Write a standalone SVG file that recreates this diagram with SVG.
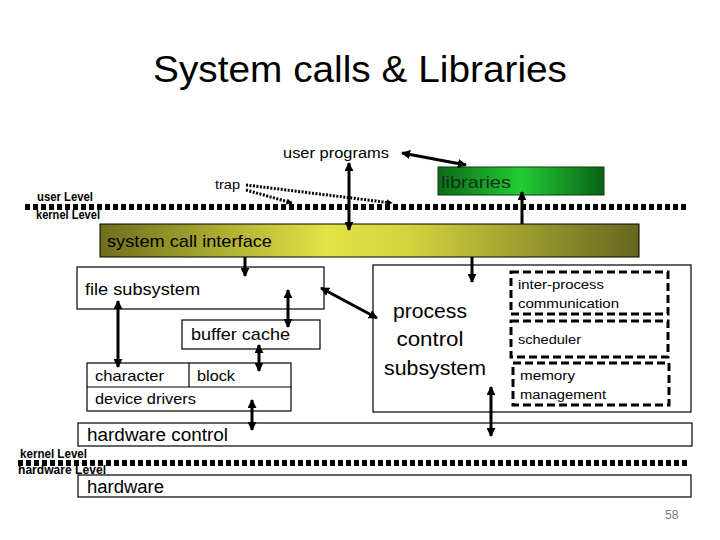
<svg xmlns="http://www.w3.org/2000/svg" width="720" height="540" viewBox="0 0 720 540">
<defs>
<style>
text{font-family:"Liberation Sans",Arial,sans-serif;fill:#000}
.box{fill:#fff;stroke:#000;stroke-width:1.2}
.dbox{fill:none;stroke:#000;stroke-width:3;stroke-dasharray:8 4}
.arr{stroke:#000;stroke-width:3;fill:none}
.dot{stroke:#000;stroke-width:3;stroke-dasharray:2 1.5;fill:none}
.div{stroke:#000;stroke-width:6;stroke-dasharray:5 3;fill:none}
.lvl{font-family:"Liberation Sans Narrow","Liberation Sans",sans-serif;font-weight:bold;font-size:12px}
.big{font-size:17px}
</style>
<marker id="ah" viewBox="0 0 10 10" refX="9" refY="5" markerWidth="9" markerHeight="9" markerUnits="userSpaceOnUse" orient="auto-start-reverse">
<path d="M0,0 L10,5 L0,10 z" fill="#000"/>
</marker>
<marker id="sh" viewBox="0 0 10 10" refX="9" refY="5" markerWidth="6" markerHeight="6" markerUnits="userSpaceOnUse" orient="auto">
<path d="M0,0 L10,5 L0,10 z" fill="#000"/>
</marker>
<linearGradient id="gSci" x1="0" y1="0" x2="1" y2="0">
<stop offset="0" stop-color="#6e6e1c"/>
<stop offset="0.42" stop-color="#e3e346"/>
<stop offset="0.58" stop-color="#d2d23e"/>
<stop offset="1" stop-color="#666620"/>
</linearGradient>
<linearGradient id="gLib" x1="0" y1="0" x2="1" y2="0">
<stop offset="0" stop-color="#0c6a18"/>
<stop offset="0.5" stop-color="#22cc33"/>
<stop offset="1" stop-color="#0a6216"/>
</linearGradient>
</defs>
<rect width="720" height="540" fill="#fff"/>

<text x="360" y="82" text-anchor="middle" font-size="37" textLength="414" lengthAdjust="spacingAndGlyphs">System calls &amp; Libraries</text>

<g id="levels">
<line class="div" x1="25" y1="207" x2="688" y2="207"/>
<line class="div" x1="18" y1="463" x2="690" y2="463"/>
<text class="lvl" x="37" y="201" textLength="56" lengthAdjust="spacingAndGlyphs">user Level</text>
<text class="lvl" x="36" y="219" textLength="64" lengthAdjust="spacingAndGlyphs">kernel Level</text>
<text class="lvl" x="20" y="458" textLength="67" lengthAdjust="spacingAndGlyphs">kernel Level</text>
<text class="lvl" x="18" y="474" textLength="88" lengthAdjust="spacingAndGlyphs">hardware Level</text>
</g>

<g id="user-programs">
<text x="283" y="158" font-size="14" textLength="106" lengthAdjust="spacingAndGlyphs">user programs</text>
</g>
<g id="trap">
<text x="215" y="189" font-size="12" textLength="25" lengthAdjust="spacingAndGlyphs">trap</text>
</g>

<g id="libraries">
<rect x="438" y="167" width="166" height="28" fill="url(#gLib)" stroke="#0a3a0a" stroke-width="1"/>
<text x="441" y="188" class="big" fill="#133" style="fill:#12301a" textLength="70" lengthAdjust="spacingAndGlyphs">libraries</text>
</g>

<g id="sci">
<rect x="100" y="224" width="539" height="33" fill="url(#gSci)" stroke="#000" stroke-width="1"/>
<text x="107" y="247" class="big" textLength="165" lengthAdjust="spacingAndGlyphs">system call interface</text>
</g>

<g id="file-subsystem">
<rect class="box" x="77" y="267" width="247" height="42"/>
<text x="85" y="295" class="big" textLength="115" lengthAdjust="spacingAndGlyphs">file subsystem</text>
</g>

<g id="buffer-cache">
<rect class="box" x="182" y="320" width="138" height="29"/>
<text x="191" y="340" class="big" textLength="99" lengthAdjust="spacingAndGlyphs">buffer cache</text>
</g>

<g id="device-drivers">
<rect class="box" x="87" y="363" width="204" height="48"/>
<line x1="87" y1="387" x2="291" y2="387" stroke="#000" stroke-width="1.2"/>
<line x1="189" y1="363" x2="189" y2="387" stroke="#000" stroke-width="1.2"/>
<text x="95" y="381" font-size="15" textLength="69" lengthAdjust="spacingAndGlyphs">character</text>
<text x="197" y="381" font-size="15" textLength="38" lengthAdjust="spacingAndGlyphs">block</text>
<text x="95" y="404" font-size="15" textLength="101" lengthAdjust="spacingAndGlyphs">device drivers</text>
</g>

<g id="process-control">
<rect class="box" x="373" y="265" width="318" height="147"/>
<text x="430" y="318" font-size="20" text-anchor="middle" textLength="74" lengthAdjust="spacingAndGlyphs">process</text>
<text x="430" y="346" font-size="20" text-anchor="middle" textLength="67" lengthAdjust="spacingAndGlyphs">control</text>
<text x="435" y="375" font-size="20" text-anchor="middle" textLength="102" lengthAdjust="spacingAndGlyphs">subsystem</text>
</g>

<g id="ipc">
<rect class="dbox" x="511" y="272" width="157" height="42"/>
<text x="518" y="289" font-size="12" textLength="86" lengthAdjust="spacingAndGlyphs">inter-process</text>
<text x="518" y="308" font-size="12" textLength="101" lengthAdjust="spacingAndGlyphs">communication</text>
</g>
<g id="scheduler">
<rect class="dbox" x="511" y="321" width="157" height="36"/>
<text x="518" y="344" font-size="12" textLength="63" lengthAdjust="spacingAndGlyphs">scheduler</text>
</g>
<g id="memory">
<rect class="dbox" x="513" y="363" width="156" height="42"/>
<text x="520" y="380" font-size="12" textLength="55" lengthAdjust="spacingAndGlyphs">memory</text>
<text x="520" y="399" font-size="12" textLength="86" lengthAdjust="spacingAndGlyphs">management</text>
</g>

<g id="hardware-control">
<rect class="box" x="78" y="423" width="614" height="23"/>
<text x="87" y="441" font-size="18" textLength="141" lengthAdjust="spacingAndGlyphs">hardware control</text>
</g>

<g id="hardware">
<rect class="box" x="78" y="475" width="613" height="22"/>
<text x="87" y="493" font-size="18" textLength="77" lengthAdjust="spacingAndGlyphs">hardware</text>
</g>

<g id="connectors">
<line class="arr" x1="402" y1="153" x2="466" y2="165" marker-start="url(#ah)" marker-end="url(#ah)"/>
<line class="arr" x1="349" y1="163" x2="349" y2="230" marker-start="url(#ah)" marker-end="url(#ah)"/>
<line class="arr" x1="522" y1="224" x2="522" y2="192" marker-end="url(#ah)"/>
<line class="dot" x1="246" y1="185" x2="392" y2="203" marker-end="url(#sh)"/>
<line class="dot" x1="246" y1="190" x2="292" y2="203" marker-end="url(#sh)"/>
<line class="arr" x1="245" y1="257" x2="245" y2="276" marker-end="url(#ah)"/>
<line class="arr" x1="472" y1="257" x2="472" y2="282" marker-end="url(#ah)"/>
<line class="arr" x1="118" y1="301" x2="118" y2="367" marker-start="url(#ah)" marker-end="url(#ah)"/>
<line class="arr" x1="288" y1="290" x2="288" y2="327" marker-start="url(#ah)" marker-end="url(#ah)"/>
<line class="arr" x1="259" y1="345" x2="259" y2="371" marker-start="url(#ah)" marker-end="url(#ah)"/>
<line class="arr" x1="252" y1="400" x2="252" y2="430" marker-start="url(#ah)" marker-end="url(#ah)"/>
<line class="arr" x1="491" y1="387" x2="491" y2="436" marker-start="url(#ah)" marker-end="url(#ah)"/>
<line class="arr" x1="321" y1="288" x2="377" y2="318" marker-start="url(#ah)" marker-end="url(#ah)"/>
</g>

<text x="665" y="519" font-size="12" fill="#777" style="fill:#777">58</text>
</svg>
